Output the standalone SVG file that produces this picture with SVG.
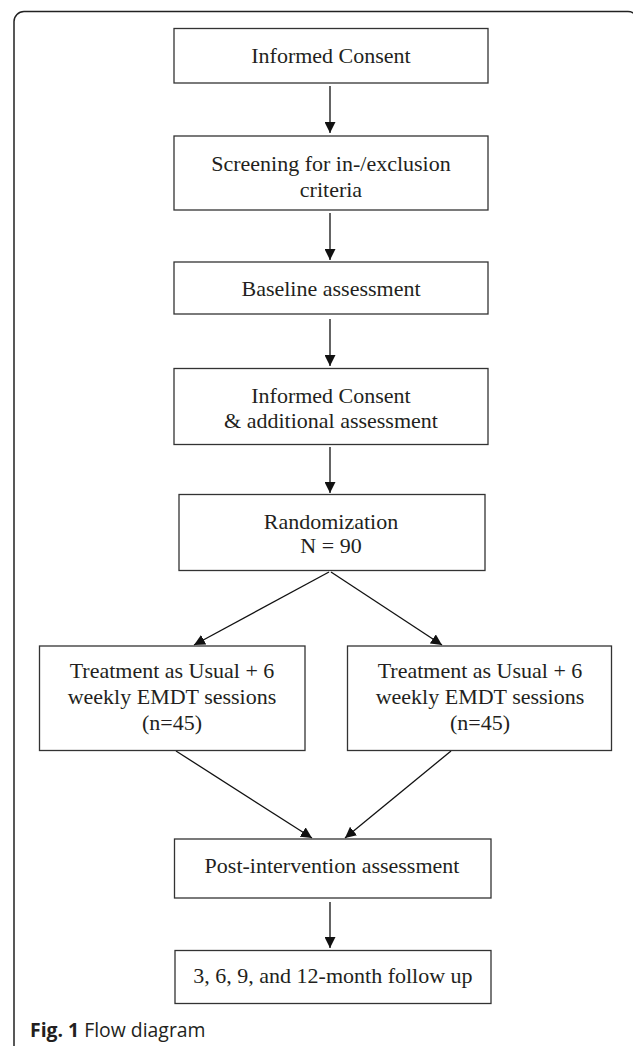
<svg xmlns="http://www.w3.org/2000/svg" width="633" height="1046" viewBox="0 0 633 1046">
<style>
.box{fill:#fff;stroke:#333;stroke-width:1.3}
.t{font-family:"Liberation Serif","Times New Roman",serif;font-size:22px;fill:#231f20;text-anchor:middle}
.c{stroke:#111;stroke-width:1.3;fill:none}
.cap{font-family:"Open Sans","Noto Sans",sans-serif;font-size:19.4px;fill:#231f20}
</style>
<defs>
<marker id="ah" markerUnits="userSpaceOnUse" viewBox="0 0 11 11" refX="11" refY="5.5" markerWidth="11" markerHeight="11" orient="auto">
<path d="M0,0 L11,5.5 L0,11 Z" fill="#111"/>
</marker>
</defs>
<rect x="14" y="11.5" width="624" height="1045" rx="10" ry="10" fill="#fff" stroke="#222" stroke-width="1.5"/>
<g id="connectors">
<line class="c" x1="330" y1="86" x2="330" y2="133" marker-end="url(#ah)"/>
<line class="c" x1="330" y1="213" x2="330" y2="260" marker-end="url(#ah)"/>
<line class="c" x1="330" y1="319" x2="330" y2="366" marker-end="url(#ah)"/>
<line class="c" x1="330" y1="447" x2="330" y2="493" marker-end="url(#ah)"/>
<line class="c" x1="329" y1="572" x2="194" y2="645" marker-end="url(#ah)"/>
<line class="c" x1="331" y1="572" x2="442" y2="645" marker-end="url(#ah)"/>
<line class="c" x1="176" y1="751" x2="312" y2="838" marker-end="url(#ah)"/>
<line class="c" x1="451" y1="751" x2="345" y2="838" marker-end="url(#ah)"/>
<line class="c" x1="330" y1="902" x2="330" y2="948" marker-end="url(#ah)"/>
</g>
<g id="n1"><rect class="box" x="174" y="28.5" width="314" height="54.5"/><text class="t" x="331" y="63">Informed Consent</text></g>
<g id="n2"><rect class="box" x="174" y="136" width="314" height="74"/><text class="t" x="331" y="171">Screening for in-/exclusion</text><text class="t" x="331" y="197">criteria</text></g>
<g id="n3"><rect class="box" x="174" y="262" width="314" height="52"/><text class="t" x="331" y="296">Baseline assessment</text></g>
<g id="n4"><rect class="box" x="174" y="368.5" width="314" height="76"/><text class="t" x="331" y="403">Informed Consent</text><text class="t" x="331" y="428">&amp; additional assessment</text></g>
<g id="n5"><rect class="box" x="179" y="494.5" width="306" height="76"/><text class="t" x="331" y="529">Randomization</text><text class="t" x="331" y="553">N = 90</text></g>
<g id="n6"><rect class="box" x="39.5" y="646" width="265.5" height="104.5"/><text class="t" x="172" y="678">Treatment as Usual + 6</text><text class="t" x="172" y="704">weekly EMDT sessions</text><text class="t" x="172" y="730">(n=45)</text></g>
<g id="n7"><rect class="box" x="347.5" y="646" width="264" height="104.5"/><text class="t" x="480" y="678">Treatment as Usual + 6</text><text class="t" x="480" y="704">weekly EMDT sessions</text><text class="t" x="480" y="730">(n=45)</text></g>
<g id="n8"><rect class="box" x="174.5" y="839" width="316.5" height="59"/><text class="t" x="332" y="873">Post-intervention assessment</text></g>
<g id="n9"><rect class="box" x="175" y="950.5" width="316" height="53"/><text class="t" x="333" y="983">3, 6, 9, and 12-month follow up</text></g>
<text class="cap" x="30" y="1036.5"><tspan font-weight="bold">Fig. 1</tspan> Flow diagram</text>
</svg>
